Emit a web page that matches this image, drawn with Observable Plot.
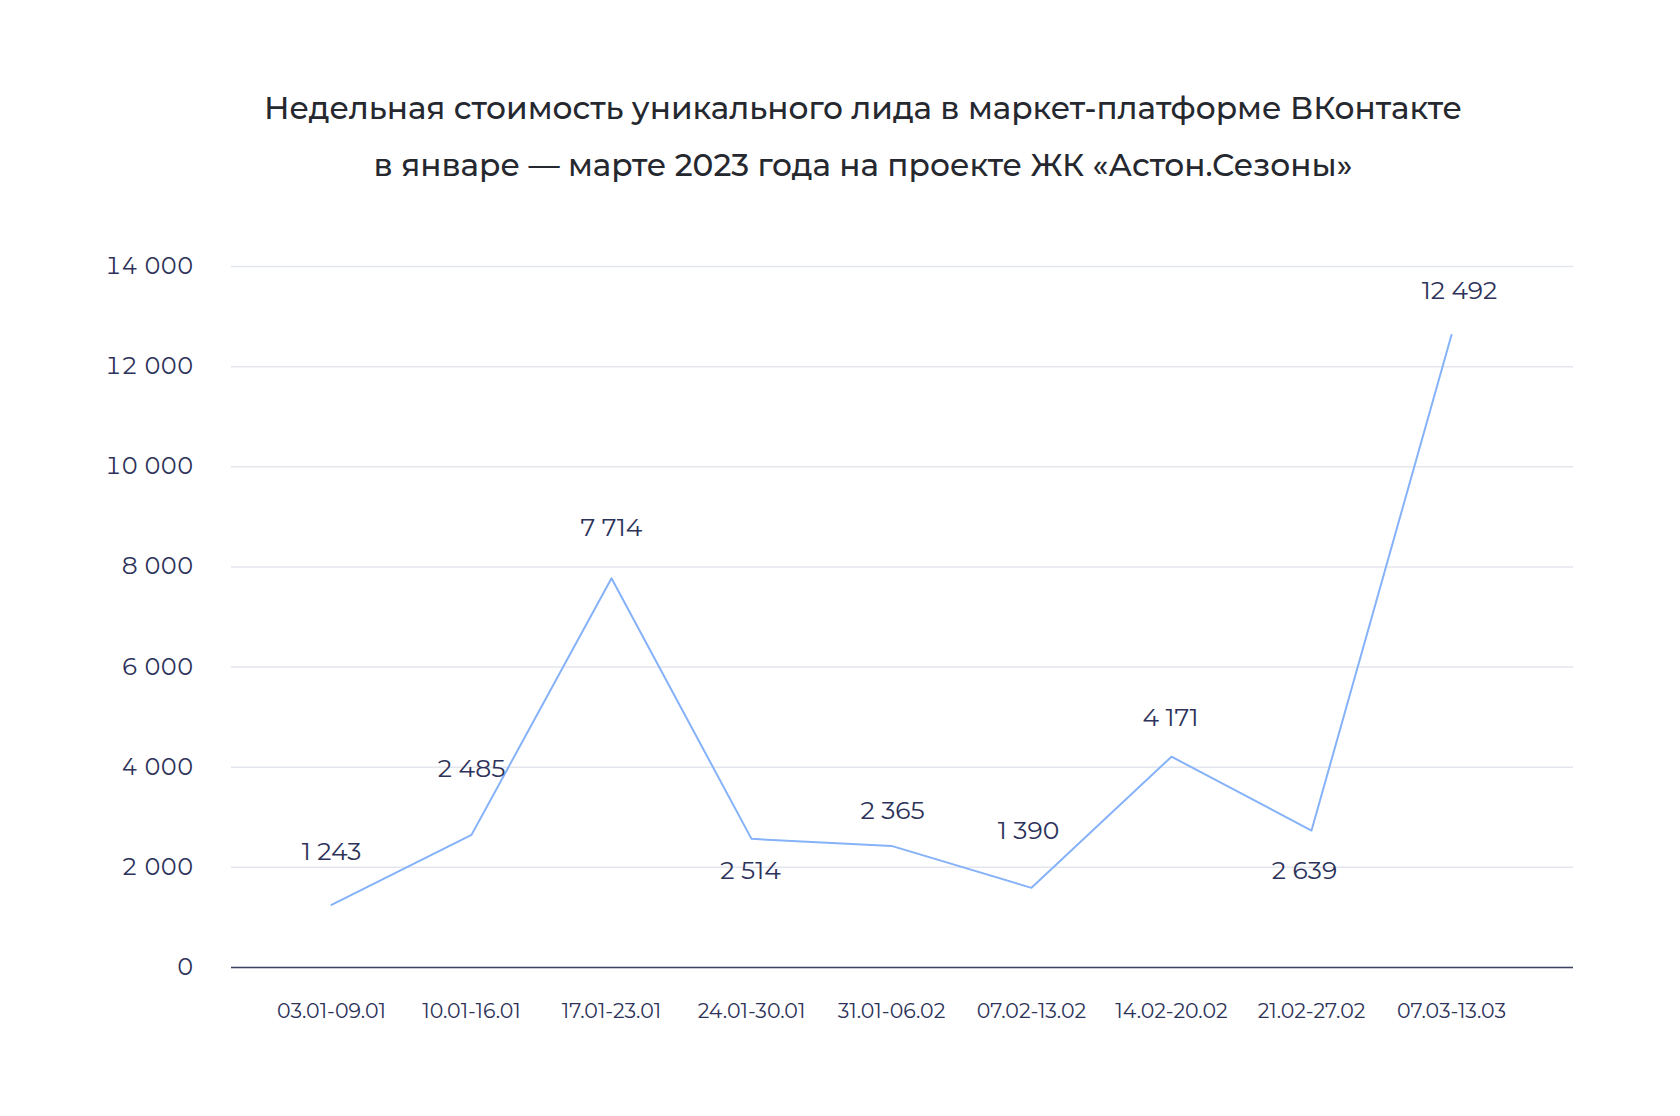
<!DOCTYPE html>
<html>
<head>
<meta charset="utf-8">
<script src="https://cdn.jsdelivr.net/npm/d3@7"></script>
<script src="https://cdn.jsdelivr.net/npm/@observablehq/plot@0.6"></script>
<style>
  html, body { margin: 0; padding: 0; background: #fff; overflow: hidden; }
  body { width: 1680px; height: 1116px; font-family: Montserrat, Inter, "Open Sans", sans-serif; }
  #title { padding-top: 80px; padding-left: 46px; text-align: center; font-size: 31.2px; font-weight: 500; line-height: 57px; color: #262830; height: 114px; }
  #chart svg { display: block; }
</style>
</head>
<body>
<div id="title">Недельная стоимость уникального лида в маркет-платформе ВКонтакте<br>в январе — марте 2023 года на проекте ЖК «Астон.Сезоны»</div>
<div id="chart"></div>
<script>
// Week categories
const weeks = ["03.01-09.01", "10.01-16.01", "17.01-23.01", "24.01-30.01", "31.01-06.02", "07.02-13.02", "14.02-20.02", "21.02-27.02", "07.03-13.03"];
// Plotted values (as drawn by the line)
const plotted = [1251, 2649, 7772, 2569, 2429, 1591, 4211, 2735, 12634];
// Values written in the data labels
const labelValues = [1243, 2485, 7714, 2514, 2365, 1390, 4171, 2639, 12492];
// Y-axis ticks
const yTicks = [0, 2000, 4000, 6000, 8000, 10000, 12000, 14000];

// label placement relative to points (layout only)
const labelDy = [-53, -66, -50, 32, -35, -57, -39, 40, -44];
const labelDx = [0, 0, 0, -1, 1, -3, -1, -7, 8];

const fmt = v => d3.format(",")(v).replace(/,/g, " ");
const data = weeks.map((w, i) => ({week: w, value: plotted[i], label: fmt(labelValues[i])}));

const navy = "#2c3259";
const W = 1680, H = 922;
const mL = 231, mR = 107, mT = 72, mB = 149;

const plot = Plot.plot({
  width: W,
  height: H,
  marginLeft: mL,
  marginRight: mR,
  marginTop: mT,
  marginBottom: mB,
  style: {fontFamily: "Montserrat, Inter, 'Open Sans', sans-serif", background: "#fff", color: navy},
  x: {type: "point", domain: weeks, range: [329, 1453], padding: 0},
  y: {domain: [0, 14000]},
  marks: [
    Plot.gridY(yTicks, {stroke: "#e4e6ee", strokeOpacity: 1, strokeWidth: 1.5}),
    Plot.ruleY([0], {stroke: "#3d4263", strokeWidth: 1.5}),
    Plot.axisY(yTicks, {tickSize: 0, tickPadding: 38, fontSize: 23.5, fill: navy, tickFormat: fmt, label: null}),
    Plot.axisX({tickSize: 0, tickPadding: 36, fontSize: 20.5, fill: navy, label: null}),
    Plot.line(data, {x: "week", y: "value", stroke: "#85b2f8", strokeWidth: 2}),
    ...data.map((d, i) => Plot.text([d], {x: "week", y: "value", text: "label", dy: labelDy[i], dx: labelDx[i], fontSize: 25, fill: navy}))
  ]
});
document.getElementById("chart").appendChild(plot);
</script>
</body>
</html>
